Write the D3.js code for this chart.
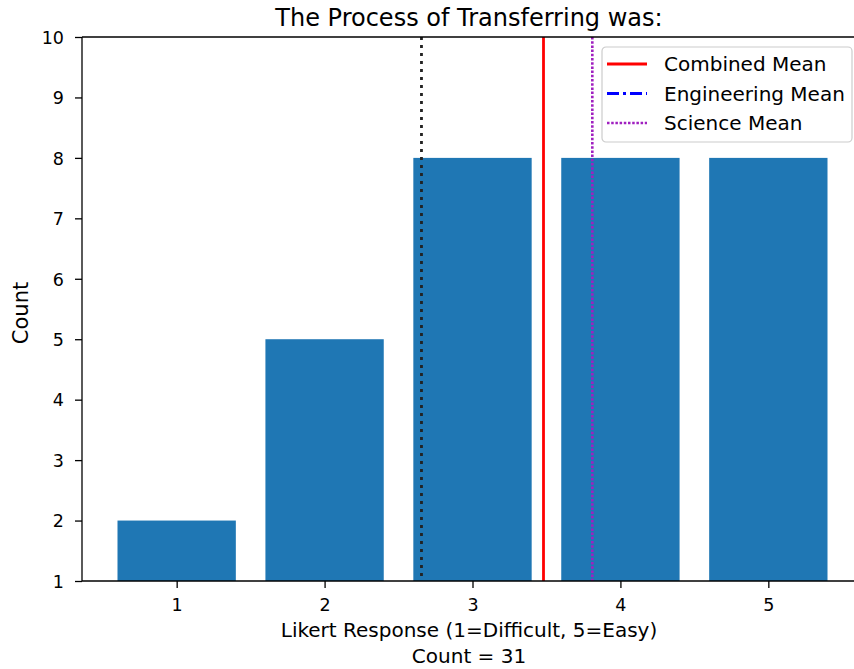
<!DOCTYPE html>
<html><head><meta charset="utf-8">
<script src="https://cdn.jsdelivr.net/npm/d3@7"></script>
<style>body{margin:0;background:#fff;} text{font-family:"DejaVu Sans",sans-serif;}</style>
</head><body>
<svg id="chart" width="854" height="669"></svg>
<script>
const categories = [1, 2, 3, 4, 5];
const counts = [2, 5, 8, 8, 8];
const yTicks = [1, 2, 3, 4, 5, 6, 7, 8, 9, 10];
const unlabeledLine = 2.655;
const combinedMean = 3.48;
const scienceMean = 3.81;
const legendItems = ["Combined Mean", "Engineering Mean", "Science Mean"];

(function () {
const svg = d3.select("#chart");
const mL = 82, mT = 37, mB = 581, mR = 863;
const x = d3.scaleLinear().domain([0.36, 5.64]).range([mL, mR]);
const y = d3.scaleLinear().domain([1, 10]).range([mB, mT]);
const bw = x(1.4) - x(0.6);

svg.append("g").selectAll("rect").data(categories).join("rect")
  .attr("x", (d) => x(d - 0.4)).attr("width", bw)
  .attr("y", (d, i) => y(counts[i])).attr("height", (d, i) => y(1) - y(counts[i]))
  .attr("fill", "#1f77b4");

function vline(v, color, dash, w) {
  svg.append("line").attr("x1", x(v)).attr("x2", x(v)).attr("y1", mT).attr("y2", mB)
    .attr("stroke", color).attr("stroke-width", w).attr("stroke-dasharray", dash);
}
vline(unlabeledLine, "#222", "3,5", 2.8);
vline(combinedMean, "red", null, 2.8);
vline(scienceMean, "#a020c0", "2.5,1.7", 2.6);

const xAxis = svg.append("g").attr("transform", `translate(0,${mB})`)
  .call(d3.axisBottom(x).tickValues(categories).tickFormat(d3.format("d")).tickSize(7).tickSizeOuter(0));
const yAxis = svg.append("g").attr("transform", `translate(${mL},0)`)
  .call(d3.axisLeft(y).tickValues(yTicks).tickFormat(d3.format("d")).tickSize(7).tickSizeOuter(0));
[xAxis, yAxis].forEach(a => {
  a.selectAll("text").attr("font-size", 17.5).attr("fill", "#000").attr("font-family", "DejaVu Sans");
  a.selectAll("line").attr("stroke", "#000").attr("stroke-width", 1.3);
  a.select(".domain").remove();
});
xAxis.selectAll("text").attr("y", 30).attr("dy", null);
yAxis.selectAll("text").attr("x", -18).attr("dy", "0.36em");

svg.append("line").attr("x1", mL).attr("x2", mR).attr("y1", mB).attr("y2", mB).attr("stroke", "#000").attr("stroke-width", 1.3);
svg.append("line").attr("x1", mL).attr("x2", mR).attr("y1", mT).attr("y2", mT).attr("stroke", "#000").attr("stroke-width", 1.3);
svg.append("line").attr("x1", mL).attr("x2", mL).attr("y1", mT).attr("y2", mB).attr("stroke", "#000").attr("stroke-width", 1.3);

svg.append("text").attr("x", 469).attr("y", 26).attr("text-anchor", "middle").attr("font-size", 24).text("The Process of Transferring was:");
svg.append("text").attr("x", 469).attr("y", 637).attr("text-anchor", "middle").attr("font-size", 20).text("Likert Response (1=Difficult, 5=Easy)");
svg.append("text").attr("x", 469).attr("y", 663).attr("text-anchor", "middle").attr("font-size", 20).text("Count = 31");
svg.append("text").attr("transform", `translate(28,${(mT + mB) / 2 + 4}) rotate(-90)`).attr("text-anchor", "middle").attr("font-size", 21).text("Count");

const lg = svg.append("g").attr("transform", "translate(602,47)");
lg.append("rect").attr("width", 250).attr("height", 95).attr("rx", 4).attr("fill", "rgba(255,255,255,0.8)").attr("stroke", "#ccc").attr("stroke-width", 1.2);
const styles = [["red", null, 2.8], ["blue", "12,4,3,4", 2.8], ["#a020c0", "2.5,1.7", 2.6]];
legendItems.forEach((t, i) => {
  const yy = 17 + i * 29.5;
  lg.append("line").attr("x1", 5).attr("x2", 45).attr("y1", yy).attr("y2", yy)
    .attr("stroke", styles[i][0]).attr("stroke-width", styles[i][2]).attr("stroke-dasharray", styles[i][1]);
  lg.append("text").attr("x", 62).attr("y", yy + 7).attr("font-size", 20).text(t);
});
})();
</script>
</body></html>
